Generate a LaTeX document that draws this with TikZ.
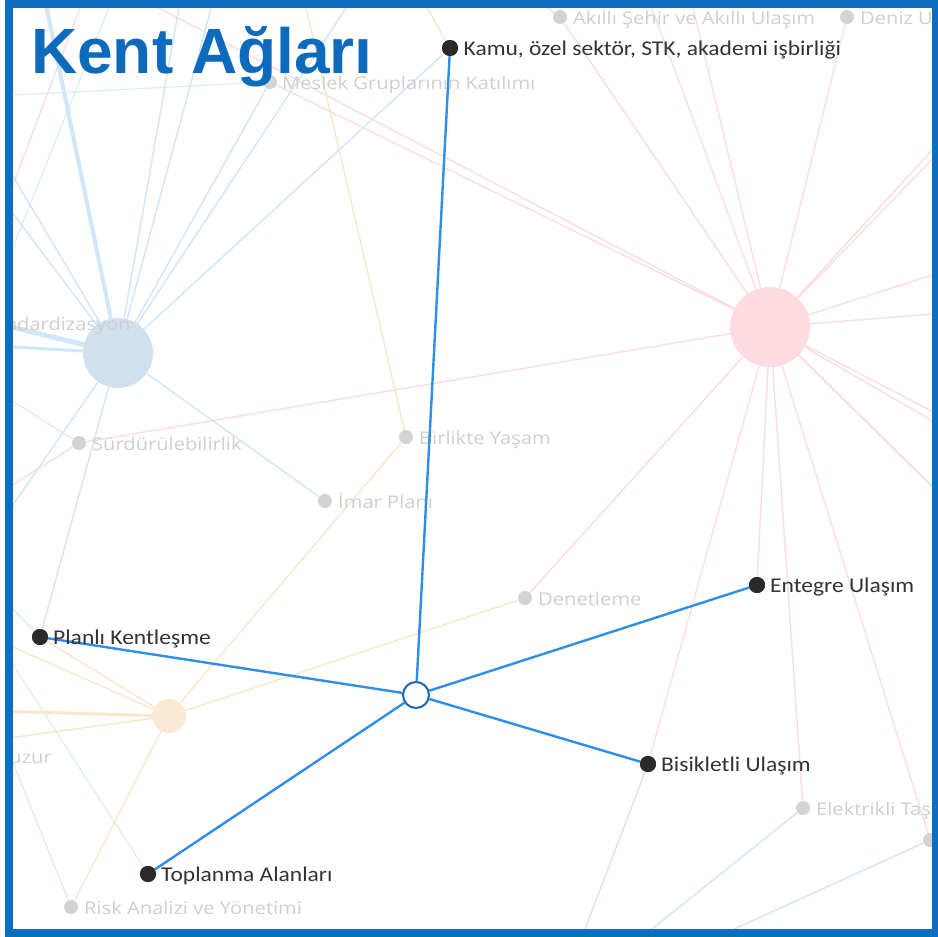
\documentclass[tikz,border=0pt]{standalone}
\usepackage{fontspec}
\setmainfont{Open Sans}
\newfontfamily\grayfont[FakeStretch=1.15]{Open Sans}
\newfontfamily\darkfont[FakeStretch=1.12]{Carlito}
\newfontfamily\titlefont{Liberation Sans}

\definecolor{framecol}{HTML}{0D6EC1}
\definecolor{titlecol}{HTML}{0E6ABD}
\definecolor{hiedge}{HTML}{2F8EEA}
\definecolor{ctrring}{HTML}{1A66B5}
\definecolor{bgblue}{HTML}{D0E6FA}
\definecolor{bgpink}{HTML}{FBDCDF}
\definecolor{bgorange}{HTML}{FBE6CB}
\definecolor{bggreen}{HTML}{D6F2E6}
\definecolor{dotgray}{HTML}{D3D3D3}
\definecolor{lblgray}{HTML}{CFCFCF}
\definecolor{dotdark}{HTML}{2A2A2A}
\definecolor{lbldark}{HTML}{333333}
\definecolor{bigblue}{HTML}{CFE0EF}
\definecolor{bigpink}{HTML}{FCDCE0}
\definecolor{bigorange}{HTML}{FBEAD3}

\tikzset{
  gdot/.style={circle,fill=dotgray,minimum size=14pt,inner sep=0},
  ddot/.style={circle,fill=dotdark,minimum size=16pt,inner sep=0},
  glabel/.style={anchor=base west,inner sep=0,text=lblgray,font=\grayfont\fontsize{17.5}{17.5}\selectfont},
  glabelr/.style={anchor=base east,inner sep=0,text=lblgray,font=\grayfont\fontsize{17.5}{17.5}\selectfont},
  dlabel/.style={anchor=base west,inner sep=0,text=lbldark,font=\darkfont\fontsize{21}{21}\selectfont},
  bluee/.style={draw=bgblue,line width=1.4},
  pinke/.style={draw=bgpink,line width=1.4},
  orangee/.style={draw=bgorange,line width=1.4},
  greene/.style={draw=bggreen,line width=1.2},
  hie/.style={draw=hiedge,line width=2.4},
}

\begin{document}
\begin{tikzpicture}[x=1pt,y=-1pt]
\useasboundingbox (0,0) rectangle (938,937);
\fill[white] (0,0) rectangle (938,937);

\begin{scope}
\clip (13,8) rectangle (932,929);

% big cluster nodes
\node[circle,fill=bigblue,minimum size=70pt,inner sep=0] (B) at (118,353) {};
\node[circle,fill=bigpink,minimum size=80pt,inner sep=0] (P) at (770,327) {};
\node[circle,fill=bigorange,minimum size=34pt,inner sep=0] (O) at (169,716) {};

% gray nodes
\node[gdot] (akilli) at (560,17) {};
\node[gdot] (deniz) at (847,17) {};
\node[gdot] (meslek) at (270,82) {};
\node[gdot] (surd) at (79,443) {};
\node[gdot] (birlikte) at (406,437) {};
\node[gdot] (imar) at (325,501) {};
\node[gdot] (denet) at (525,598) {};
\node[gdot] (elek) at (803,808) {};
\node[gdot] (rdot) at (930,840) {};
\node[gdot] (risk) at (71,907) {};

% dark nodes
\node[ddot] (kamu) at (450,48) {};
\node[ddot] (entegre) at (757,585) {};
\node[ddot] (bisik) at (648,764) {};
\node[ddot] (toplanma) at (148,874) {};
\node[ddot] (planli) at (40,637) {};

% off-screen ends
\coordinate (b1) at (43,-10);
\coordinate (b2) at (182,-10);
\coordinate (b3) at (216,-10);
\coordinate (b4) at (358,-10);
\coordinate (b5) at (-5,146);
\coordinate (b6) at (-5,190);
\coordinate (b7) at (-5,323);
\coordinate (b8) at (-5,346);
\coordinate (b9) at (-5,531);
\coordinate (b10) at (579,945);
\coordinate (b11) at (632,945);
\coordinate (b12) at (699,945);
\coordinate (p1) at (647,-5);
\coordinate (p2) at (690,-5);
\coordinate (p3) at (945,136);
\coordinate (p4) at (945,146);
\coordinate (p5) at (945,271);
\coordinate (p6) at (945,313);
\coordinate (p7) at (945,418);
\coordinate (p8) at (945,428);
\coordinate (p9) at (945,499);
\coordinate (p10) at (134,-5);
\coordinate (p11) at (-5,232);
\coordinate (p12) at (85,-5);
\coordinate (p13) at (-5,496);
\coordinate (p14) at (530,-5);
\coordinate (o1) at (-5,711);
\coordinate (o2) at (-5,740);
\coordinate (o3) at (-5,639);
\coordinate (o4) at (303,-5);
\coordinate (o5) at (420,-5);
\coordinate (g1) at (-5,96);
\coordinate (g2) at (-5,292);
\coordinate (g3) at (114,-5);
\coordinate (g4) at (-5,390);
\coordinate (g5) at (-5,591);
\coordinate (g6) at (-5,637);
\coordinate (g7) at (-5,718);

% background edges: green
\draw[greene] (g1) -- (meslek);
\draw[greene] (g2) -- (g3);
\draw[greene] (g4) -- (surd);
\draw[greene] (g5) -- (planli);
\draw[greene] (g6) -- (toplanma);
\draw[greene] (g7) -- (risk);

% background edges: orange
\draw[orangee,line width=3] (o1) -- (O);
\draw[orangee] (o2) -- (O);
\draw[orangee] (o3) -- (O);
\draw[orangee] (planli) -- (O);
\draw[orangee] (O) -- (birlikte);
\draw[orangee] (O) -- (denet);
\draw[orangee] (O) -- (risk);
\draw[orangee] (birlikte) -- (o4);
\draw[orangee] (kamu) -- (o5);

% background edges: pink
\draw[pinke] (P) -- (akilli);
\draw[pinke] (akilli) -- (p14);
\draw[pinke] (P) -- (p1);
\draw[pinke] (P) -- (p2);
\draw[pinke] (P) -- (deniz);
\draw[pinke] (P) -- (p3);
\draw[pinke] (P) -- (p4);
\draw[pinke] (P) -- (p5);
\draw[pinke] (P) -- (p6);
\draw[pinke] (P) -- (p7);
\draw[pinke] (P) -- (p8);
\draw[pinke,line width=2] (P) -- (p9);
\draw[pinke] (P) -- (rdot);
\draw[pinke] (P) -- (elek);
\draw[pinke] (P) -- (entegre);
\draw[pinke] (P) -- (bisik);
\draw[pinke] (P) -- (denet);
\draw[pinke] (P) -- (surd);
\draw[pinke] (P) -- (meslek);
\draw[pinke] (P) -- (p10);
\draw[pinke] (p11) -- (p12);
\draw[pinke] (surd) -- (p13);

% background edges: blue
\draw[bluee,line width=4] (B) -- (b1);
\draw[bluee] (B) -- (b2);
\draw[bluee] (B) -- (b3);
\draw[bluee] (B) -- (meslek);
\draw[bluee] (B) -- (b4);
\draw[bluee] (B) -- (kamu);
\draw[bluee] (B) -- (b5);
\draw[bluee] (B) -- (b6);
\draw[bluee,line width=5] (B) -- (b7);
\draw[bluee,line width=3] (B) -- (b8);
\draw[bluee] (B) -- (planli);
\draw[bluee] (B) -- (b9);
\draw[bluee] (B) -- (imar);
\draw[bluee] (bisik) -- (b10);
\draw[bluee] (elek) -- (b11);
\draw[bluee] (rdot) -- (b12);

% gray labels
\node[glabel] (lakilli) at (573,24) {Akıllı Şehir ve Akıllı Ulaşım};
\node[glabel] (ldeniz) at (860,24) {Deniz Ulaşımı};
\node[glabel] (lmeslek) at (282,89) {Meslek Gruplarının Katılımı};
\node[glabelr] (lstd) at (131,330) {Standardizasyon};
\node[glabel] (lsurd) at (92,450) {Sürdürülebilirlik};
\node[glabel] (lbirlikte) at (419,444) {Birlikte Yaşam};
\node[glabel] (limar) at (338,508) {İmar Planı};
\node[glabel] (ldenet) at (538,605) {Denetleme};
\node[glabelr] (lhuzur) at (52,763) {Huzur};
\node[glabel] (lelek) at (816,815) {Elektrikli Taşıt};
\node[glabel] (lrisk) at (84,914) {Risk Analizi ve Yönetimi};
\end{scope}

% highlighted star
\node[circle,draw=ctrring,fill=white,line width=2,minimum size=26pt,inner sep=0] (C) at (416,695) {};
\draw[hie] (C) -- (kamu);
\draw[hie] (C) -- (entegre);
\draw[hie] (C) -- (bisik);
\draw[hie] (C) -- (toplanma);
\draw[hie] (C) -- (planli);
\node[ddot] at (kamu) {};
\node[ddot] at (entegre) {};
\node[ddot] at (bisik) {};
\node[ddot] at (toplanma) {};
\node[ddot] at (planli) {};

% dark labels
\node[dlabel] (lkamu) at (463.5,55.5) {Kamu, özel sektör, STK, akademi işbirliği};
\node[dlabel] (lentegre) at (770,592.5) {Entegre Ulaşım};
\node[dlabel] (lbisik) at (661,771) {Bisikletli Ulaşım};
\node[dlabel] (ltoplanma) at (161,881) {Toplanma Alanları};
\node[dlabel] (lplanli) at (53,644) {Planlı Kentleşme};

% title
\node[anchor=base west,inner sep=0,text=titlecol,font=\titlefont\bfseries\fontsize{64}{64}\selectfont] (title) at (31,73) {Kent Ağları};

% frame
\draw[framecol,line width=8] (9,4) rectangle (936,933);
\end{tikzpicture}
\end{document}
